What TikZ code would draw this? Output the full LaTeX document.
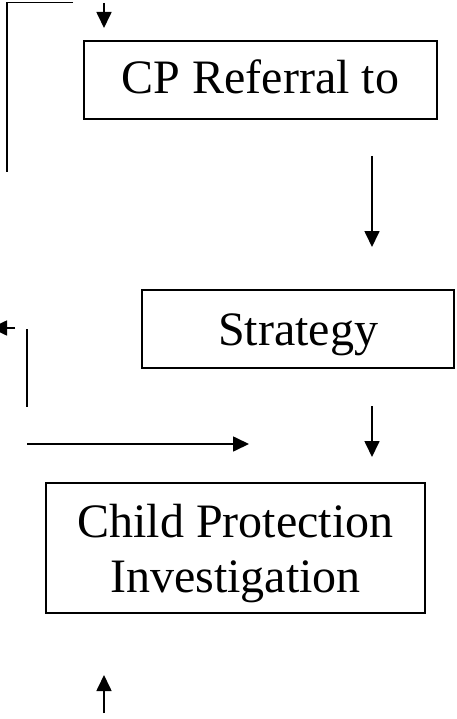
\documentclass[tikz,border=0pt]{standalone}
\usepackage{fontspec}
\setmainfont{Liberation Serif}
\usetikzlibrary{arrows.meta, positioning}

\tikzset{
  stagebox/.style={draw, line width=1.6pt, inner sep=0pt, align=center,
    font=\fontsize{48}{55}\selectfont},
  flow/.style={line width=1.7pt},
  flowarrow/.style={flow, -{Triangle[length=16pt,width=15pt]}}
}

\begin{document}
\begin{tikzpicture}[x=1pt,y=-1pt]
  \clip (0,0) rectangle (456,719);

  % Boxes
  \node[stagebox, minimum width=353pt, minimum height=78pt,
    text height=34pt, text depth=6pt] (referral) at (260.5,80) {CP Referral to};
  \node[stagebox, minimum width=312pt, minimum height=78pt,
    text height=36pt, text depth=4pt] (strategy) at (298,329) {Strategy};
  \node[stagebox, minimum width=379pt, minimum height=130pt,
    text height=96pt, text depth=8pt] (investigation) at (235.5,548) {Child Protection\\Investigation};

  % Loose ends
  \coordinate (topright) at (73,2.5);
  \coordinate (topcorner) at (7,2.5);
  \coordinate (leftend) at (7,172);
  \coordinate (intop) at (104,3);
  \coordinate (inbot) at (104,28);
  \coordinate (downtop) at (372,156);
  \coordinate (downbot) at (372,247);
  \coordinate (backstart) at (15,328);
  \coordinate (backend) at (-9,328);
  \coordinate (sidetop) at (27,329);
  \coordinate (sidebot) at (27,407);
  \coordinate (acrossstart) at (27,444);
  \coordinate (acrossend) at (249,444);
  \coordinate (lowtop) at (372,406);
  \coordinate (lowbot) at (372,457);
  \coordinate (uptop) at (104,675);
  \coordinate (upbot) at (104,713);

  % Connectors
  \draw[flow] (topright) -- (topcorner) -- (leftend);
  \draw[flowarrow] (intop) -- (inbot);
  \draw[flowarrow] (downtop) -- (downbot);
  \draw[flowarrow] (backstart) -- (backend);
  \draw[flow] (sidetop) -- (sidebot);
  \draw[flowarrow] (acrossstart) -- (acrossend);
  \draw[flowarrow] (lowtop) -- (lowbot);
  \draw[flowarrow] (upbot) -- (uptop);
\end{tikzpicture}
\end{document}
